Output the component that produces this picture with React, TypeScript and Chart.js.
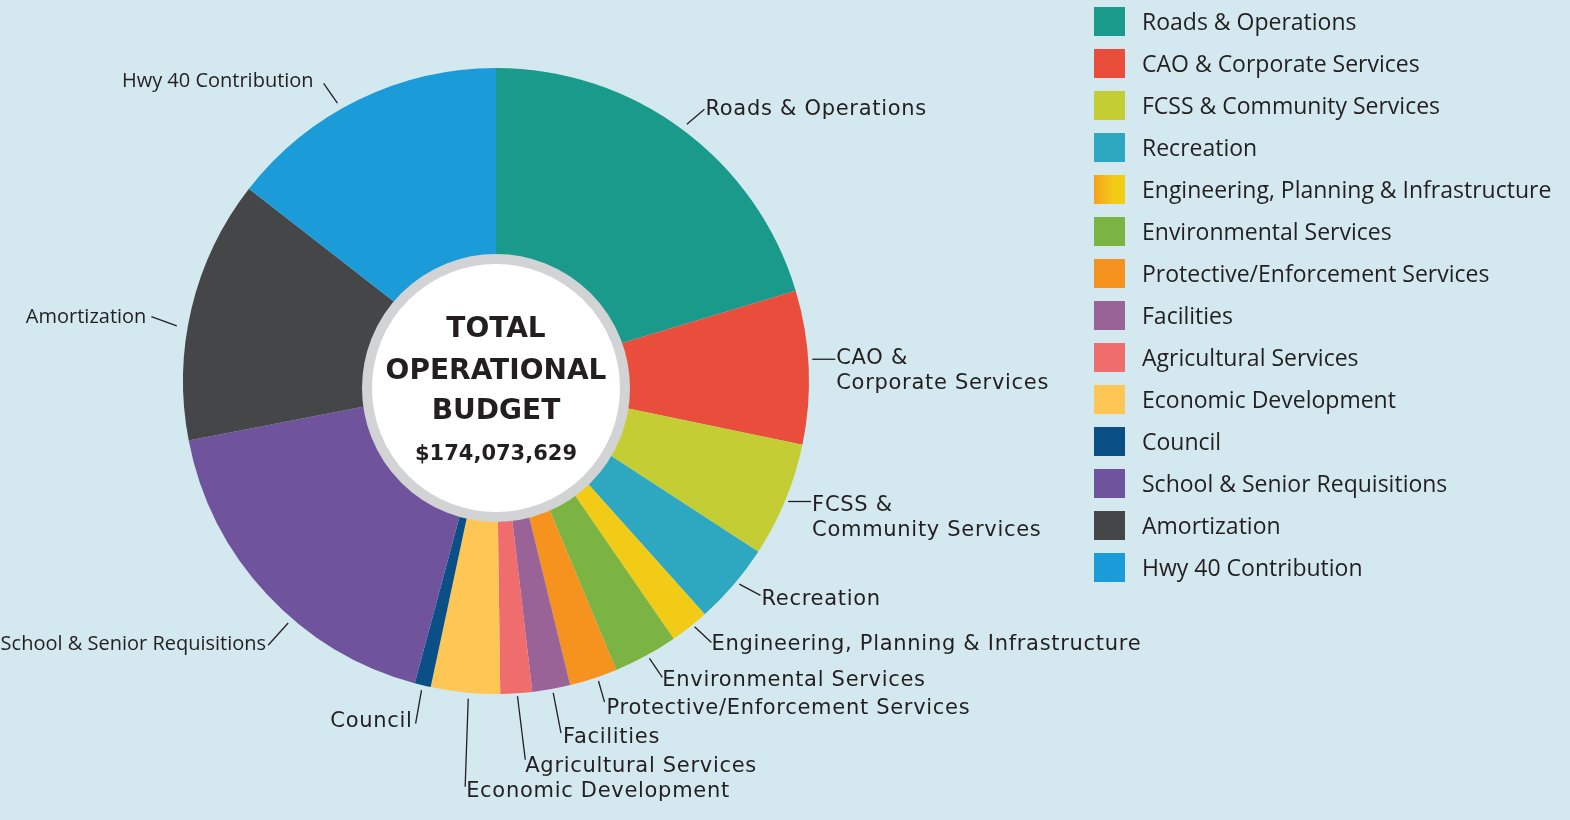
import React, { useEffect, useRef } from "react";
import { Chart, registerables } from "chart.js";

Chart.register(...registerables);

// ---------- DATA ----------
const categories = [
  "Roads & Operations",
  "CAO & Corporate Services",
  "FCSS & Community Services",
  "Recreation",
  "Engineering, Planning & Infrastructure",
  "Environmental Services",
  "Protective/Enforcement Services",
  "Facilities",
  "Agricultural Services",
  "Economic Development",
  "Council",
  "School & Senior Requisitions",
  "Amortization",
  "Hwy 40 Contribution",
];

// estimated budget share, in millions of dollars (total ≈ $174.07M)
const budgetMillions = [35.4, 13.8, 10.3, 7.3, 3.5, 5.8, 4.3, 3.4, 2.85, 6.2, 1.45, 30.95, 23.6, 25.2];

const sliceColors = [
  "#1a9a8a",
  "#e94e3d",
  "#c4ce34",
  "#2ea7c0",
  "#f1cb16",
  "#7bb443",
  "#f6921e",
  "#9a6397",
  "#f06d6d",
  "#fec655",
  "#0b4f87",
  "#6f539c",
  "#454648",
  "#1b9bd7",
];

const sliceLabelLines = [
  ["Roads & Operations"],
  ["CAO &", "Corporate Services"],
  ["FCSS &", "Community Services"],
  ["Recreation"],
  ["Engineering, Planning & Infrastructure"],
  ["Environmental Services"],
  ["Protective/Enforcement Services"],
  ["Facilities"],
  ["Agricultural Services"],
  ["Economic Development"],
  ["Council"],
  ["School & Senior Requisitions"],
  ["Amortization"],
  ["Hwy 40 Contribution"],
];

const centerTitle = ["TOTAL", "OPERATIONAL", "BUDGET"];
const centerAmount = "$174,073,629";

// ---------- STYLE / LAYOUT (leader lines) ----------
// frac: where along the slice the leader starts; gap: px beyond rim; dir: screen degrees; len: px
const LABEL_LAYOUT = [
  { frac: 0.5, gap: 7, dir: -40, len: 23, align: "left", tdx: 1, tdy: -2, f: "p" },
  { frac: 0.45, gap: 4, dir: 0, len: 23, align: "left", tdx: 1, tdy: -3, f: "p" },
  { frac: 0.5, gap: 3, dir: 0, len: 23, align: "left", tdx: 1, tdy: 2, f: "p" },
  { frac: 0.45, gap: 4, dir: 28, len: 24, align: "left", tdx: 1, tdy: 1.5, f: "p" },
  { frac: 0.4, gap: 3, dir: 43, len: 23, align: "left", tdx: 0, tdy: 0, f: "p" },
  { frac: 0.47, gap: 4, dir: 56, len: 23, align: "left", tdx: 0, tdy: 1, f: "p" },
  { frac: 0.42, gap: 4, dir: 74, len: 22, align: "left", tdx: 2, tdy: 4, f: "p" },
  { frac: 0.47, gap: 4, dir: 79, len: 41, align: "left", tdx: 2, tdy: 2, f: "p" },
  { frac: 0.47, gap: 3, dir: 83, len: 64, align: "left", tdx: 0, tdy: 5, f: "p" },
  { frac: 0.45, gap: 6, dir: 92, len: 88, align: "left", tdx: 1, tdy: 3, f: "p" },
  { frac: 0.5, gap: 5, dir: 100, len: 34, align: "right", tdx: -3, tdy: -4, f: "p" },
  { frac: 0.4, gap: 6, dir: 132, len: 30, align: "right", tdx: -2, tdy: -3, f: "o" },
  { frac: 0.425, gap: 11, dir: 200, len: 27, align: "right", tdx: -5, tdy: -1, f: "o" },
  { frac: 0.43, gap: 7, dir: 235, len: 24, align: "right", tdx: -10, tdy: -4, f: "o" },
];

const TEXT = "#231f20";

const annotate = {
  id: "annotate",
  afterDatasetsDraw(chart: any) {
    const ctx: CanvasRenderingContext2D = chart.ctx;
    const meta = chart.getDatasetMeta(0);
    if (!meta.data.length) return;
    ctx.save();

    // leader lines + labels
    meta.data.forEach((arc: any, i: number) => {
      const p = arc.getProps(["x", "y", "startAngle", "endAngle", "outerRadius"], true);
      const L = LABEL_LAYOUT[i];
      const a = p.startAngle + (p.endAngle - p.startAngle) * L.frac;
      const r0 = p.outerRadius + L.gap;
      const x0 = p.x + Math.cos(a) * r0;
      const y0 = p.y + Math.sin(a) * r0;
      const d = (L.dir * Math.PI) / 180;
      const x1 = x0 + Math.cos(d) * L.len;
      const y1 = y0 + Math.sin(d) * L.len;
      ctx.strokeStyle = TEXT;
      ctx.lineWidth = 1.3;
      ctx.beginPath();
      ctx.moveTo(x0, y0);
      ctx.lineTo(x1, y1);
      ctx.stroke();

      const size = L.f === "p" ? 21 : 20;
      ctx.font =
        L.f === "p" ? `${size}px "DejaVu Sans", sans-serif` : `${size}px "Open Sans", sans-serif`;
      (ctx as any).letterSpacing = L.f === "p" ? "0.7px" : "0px";
      ctx.fillStyle = TEXT;
      ctx.textAlign = L.align as CanvasTextAlign;
      ctx.textBaseline = "alphabetic";
      const cap = size * 0.72;
      sliceLabelLines[i].forEach((line, k) => {
        ctx.fillText(line, x1 + L.tdx, y1 + L.tdy + cap / 2 + k * 25);
      });
    });
    (ctx as any).letterSpacing = "0px";

    // center disc
    const c = meta.data[0].getProps(["x", "y"], true);
    const cx = c.x;
    const cy = c.y + 7;
    ctx.beginPath();
    ctx.arc(cx, cy, 129, 0, Math.PI * 2);
    ctx.fillStyle = "#ffffff";
    ctx.fill();
    ctx.lineWidth = 10;
    ctx.strokeStyle = "#d1d3d4";
    ctx.stroke();

    ctx.fillStyle = TEXT;
    ctx.textAlign = "center";
    ctx.textBaseline = "alphabetic";
    ctx.font = `bold 28px "DejaVu Sans", sans-serif`;
    const titleOffsets = [-61, -19, 21];
    centerTitle.forEach((t, k) => {
      ctx.fillText(t, cx, cy + titleOffsets[k] + 28 * 0.36);
    });
    ctx.font = `bold 21px "DejaVu Sans", sans-serif`;
    ctx.fillText(centerAmount, cx, cy + 64 + 21 * 0.36);

    // legend
    const lx = 1094;
    const top = 21.5;
    const step = 42;
    ctx.font = `23px "Open Sans", sans-serif`;
    ctx.textAlign = "left";
    categories.forEach((name, i) => {
      const yc = top + i * step;
      if (i === 4) {
        const g = ctx.createLinearGradient(lx, 0, lx + 31, 0);
        g.addColorStop(0, "#f7a01c");
        g.addColorStop(0.6, "#f1cb16");
        g.addColorStop(1, "#f1cf14");
        ctx.fillStyle = g;
      } else {
        ctx.fillStyle = sliceColors[i];
      }
      ctx.fillRect(lx, yc - 14.5, 31, 29);
      ctx.fillStyle = TEXT;
      ctx.fillText(name, 1142, yc + 23 * 0.357);
    });

    ctx.restore();
  },
};

export default function App() {
  const ref = useRef<HTMLCanvasElement | null>(null);
  useEffect(() => {
    if (!ref.current) return;
    const chart = new Chart(ref.current, {
      type: "pie",
      data: {
        labels: categories,
        datasets: [
          {
            data: budgetMillions,
            backgroundColor: sliceColors,
            borderWidth: 0,
            hoverOffset: 0,
          },
        ],
      },
      options: {
        responsive: false,
        animation: false,
        events: [],
        layout: { padding: { left: 183, right: 761, top: 68, bottom: 126 } },
        plugins: {
          legend: { display: false },
          tooltip: { enabled: false },
        },
      },
      plugins: [annotate],
    });
    return () => chart.destroy();
  }, []);

  return (
    <div
      style={{
        position: "absolute",
        left: 0,
        top: 0,
        width: 1570,
        height: 820,
        background: "#d3e9ef",
        overflow: "hidden",
      }}
    >
      <canvas ref={ref} width={1570} height={820} style={{ display: "block" }} />
    </div>
  );
}
